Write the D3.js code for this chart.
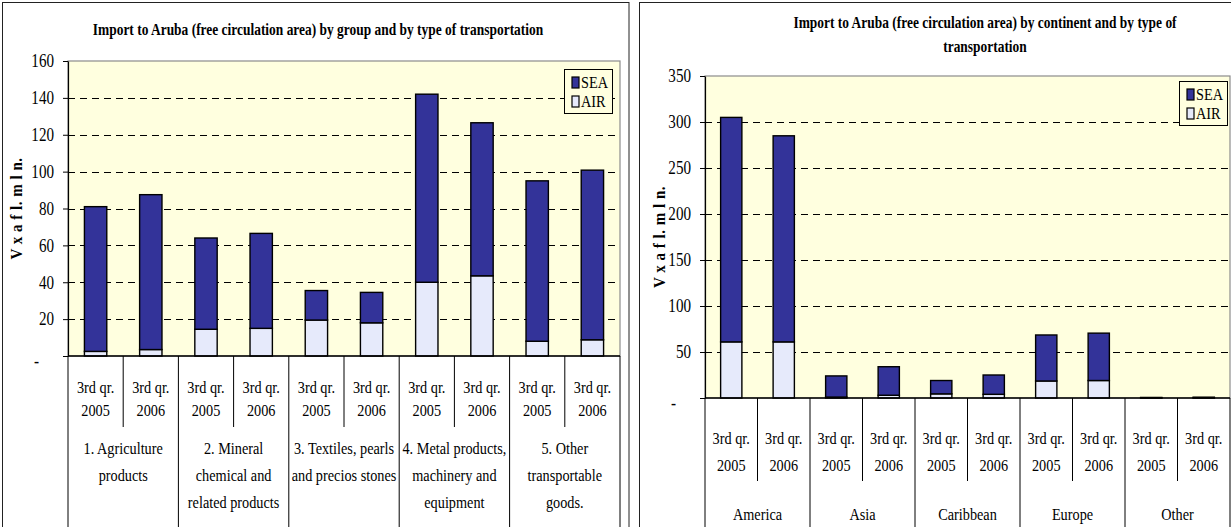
<!DOCTYPE html>
<html>
<head>
<meta charset="utf-8">
<script src="https://cdn.jsdelivr.net/npm/d3@7"></script>
<style>
  body { margin: 0; background: #fff; }
</style>
</head>
<body>
<div id="chart"></div>
<script>
// left chart: groups of goods
var groupNames = [
  ["1. Agriculture", "products"],
  ["2. Mineral", "chemical and", "related products"],
  ["3. Textiles, pearls", "and precios stones"],
  ["4. Metal products,", "machinery and", "equipment"],
  ["5. Other", "transportable", "goods."]
];
var groupSea = [78.5, 84, 49.5, 51.5, 16, 16.5, 102, 83, 87, 92];
var groupAir = [2.5, 3.5, 14.5, 15, 19.5, 18, 40, 43.5, 8, 8.8];
var groupTicks = [0, 20, 40, 60, 80, 100, 120, 140, 160];

// right chart: continents
var continents = [["America"], ["Asia"], ["Caribbean"], ["Europe"], ["Other"]];
var contSea = [244, 224, 23, 31, 14.5, 21, 50, 51.5, 0.5, 0.7];
var contAir = [61, 61, 1, 3, 4.5, 4, 18.5, 19, 0.1, 0.2];
var contTicks = [0, 50, 100, 150, 200, 250, 300, 350];

// periods shared by both charts
var periods = [["3rd qr.", "2005"], ["3rd qr.", "2006"]];
var seriesNames = ["SEA", "AIR"];

var FONT = "'Liberation Serif', 'Times New Roman', 'DejaVu Serif', serif";
var SX = 0.84; // text in the picture is squeezed sideways
var seaColor = "#333399", airColor = "#E6EAFB", plotBg = "#FFFFDF";

var svg = d3.select("#chart").append("svg")
    .attr("width", 1231)
    .attr("height", 527)
    .style("font-family", FONT);

// squeezed text helper
function label(g, x, y, s, size, anchor, bold) {
  return g.append("text")
    .attr("transform", "translate(" + x + "," + y + ") scale(" + SX + ",1)")
    .attr("text-anchor", anchor || "middle")
    .style("font-family", FONT)
    .style("font-size", size + "px")
    .style("font-weight", bold ? "bold" : "normal")
    .text(s);
}

// panel frames
svg.append("rect").attr("x", 2.5).attr("y", 2.5).attr("width", 626.5).attr("height", 600)
  .attr("fill", "none").attr("stroke", "#222");
svg.append("rect").attr("x", 639.5).attr("y", 2.5).attr("width", 700).attr("height", 600)
  .attr("fill", "none").attr("stroke", "#222");

function drawChart(c) {
  var g = svg.append("g");
  var rows = [];
  c.groups.forEach(function(grp, gi) {
    periods.forEach(function(p, pi) {
      var i = gi * periods.length + pi;
      rows.push({key: i, group: gi, period: p, SEA: c.sea[i], AIR: c.air[i]});
    });
  });

  var x = d3.scaleBand().domain(rows.map(function(d) { return d.key; }))
      .range([c.left, c.right]);
  var y = d3.scaleLinear().domain([0, c.max]).range([c.bottom, c.top]);

  // plot area
  g.append("rect")
    .attr("x", c.left).attr("y", c.top)
    .attr("width", c.right - c.left).attr("height", c.bottom - c.top)
    .attr("fill", plotBg).attr("stroke", "#8c8c8c").attr("stroke-width", 1.2);

  // dashed grid
  g.selectAll(".grid").data(c.ticks.filter(function(t) { return t > 0 && t < c.max; }))
    .enter().append("line")
    .attr("x1", c.left).attr("x2", c.right)
    .attr("y1", function(d) { return Math.round(y(d)) + 0.5; })
    .attr("y2", function(d) { return Math.round(y(d)) + 0.5; })
    .attr("stroke", "#000").attr("stroke-dasharray", "7,5");

  // stacked bars, AIR at the bottom
  var stacked = d3.stack().keys(["AIR", "SEA"])(rows);
  var barW = x.bandwidth() * 0.405;
  g.selectAll(".layer").data(stacked).enter().append("g")
    .attr("fill", function(d) { return d.key === "SEA" ? seaColor : airColor; })
    .selectAll("rect").data(function(d) { return d; }).enter().append("rect")
    .attr("x", function(d) { return x(d.data.key) + (x.bandwidth() - barW) / 2; })
    .attr("y", function(d) { return y(d[1]); })
    .attr("width", barW)
    .attr("height", function(d) { return y(d[0]) - y(d[1]); })
    .attr("stroke", "#000").attr("stroke-width", 1.4);

  // y axis
  var yAxis = g.append("g")
    .attr("transform", "translate(" + c.left + ",0)")
    .call(d3.axisLeft(y).tickValues(c.ticks).tickSize(5).tickSizeOuter(0)
      .tickFormat(function(d) { return d === 0 ? "-" : d; }));
  yAxis.attr("font-family", null);
  yAxis.select(".domain").attr("stroke", "#000").attr("stroke-width", 1.2);
  yAxis.selectAll(".tick line").attr("stroke", "#000");
  yAxis.selectAll(".tick text")
    .attr("transform", "scale(" + SX + ",1)")
    .attr("x", -14 / SX)
    .attr("fill", "#000")
    .style("font-size", "18px")
    .style("font-family", FONT);
  yAxis.selectAll(".tick text").filter(function(d) { return d === 0; })
    .attr("text-anchor", "start").attr("x", -34 / SX).attr("dy", "0.6em");

  // y title
  g.append("text")
    .attr("transform", "translate(" + c.ylabX + "," + (c.top + c.bottom) / 2 + ") rotate(-90) scale(0.88,1)")
    .attr("text-anchor", "middle")
    .style("font-family", FONT)
    .style("font-size", "17px").style("font-weight", "bold")
    .style("letter-spacing", "0.6px")
    .text("V x a f l. m l n.");

  // x baseline and separators
  g.append("line").attr("x1", c.left).attr("x2", c.right)
    .attr("y1", c.bottom).attr("y2", c.bottom).attr("stroke", "#000").attr("stroke-width", 1.5);
  var edges = d3.range(rows.length + 1);
  g.selectAll(".sep").data(edges).enter().append("line")
    .attr("x1", function(i) { return i < rows.length ? x(i) : c.right; })
    .attr("x2", function(i) { return i < rows.length ? x(i) : c.right; })
    .attr("y1", c.bottom)
    .attr("y2", function(i) { return i % periods.length === 0 ? 560 : c.shortSep; })
    .attr("stroke", "#000").attr("stroke-width", 1);

  // period labels
  rows.forEach(function(d) {
    var cx = x(d.key) + x.bandwidth() / 2;
    d.period.forEach(function(line, li) {
      label(g, cx, c.periodY + li * c.periodGap, line, 17, "middle");
    });
  });

  // group labels
  c.groups.forEach(function(grp, gi) {
    var cx = (x(gi * periods.length) + x(gi * periods.length + 1) + x.bandwidth()) / 2;
    grp.forEach(function(line, li) {
      label(g, cx, c.groupY + li * c.groupGap, line, 17, "middle");
    });
  });

  // title
  c.title.forEach(function(line, li) {
    g.append("text")
      .attr("transform", "translate(" + c.titleX + "," + (c.titleY + li * 24) + ") scale(0.84,1)")
      .attr("text-anchor", "middle")
      .style("font-family", FONT)
      .style("font-size", "16px").style("font-weight", "bold")
      .text(line);
  });

  // legend
  var lg = g.append("g").attr("transform", "translate(" + c.legend[0] + "," + c.legend[1] + ")");
  lg.append("rect").attr("x", 0.5).attr("y", 0.5).attr("width", 48).attr("height", 44)
    .attr("fill", plotBg).attr("stroke", "#000");
  seriesNames.forEach(function(s, si) {
    lg.append("rect").attr("x", 8).attr("y", 8 + si * 19).attr("width", 7).attr("height", 11)
      .attr("fill", s === "SEA" ? seaColor : airColor).attr("stroke", "#000").attr("stroke-width", 1.2);
    label(lg, 17, 19 + si * 19, s, 17, "start");
  });
}

drawChart({
  groups: groupNames, sea: groupSea, air: groupAir, ticks: groupTicks, max: 160,
  left: 68, right: 620, top: 61, bottom: 356,
  ylabX: 22, shortSep: 427,
  periodY: 393, periodGap: 23, groupY: 454, groupGap: 27,
  title: ["Import to Aruba (free circulation area) by group and by type of transportation"],
  titleX: 318, titleY: 35,
  legend: [564, 69]
});

drawChart({
  groups: continents, sea: contSea, air: contAir, ticks: contTicks, max: 350,
  left: 705, right: 1230, top: 76, bottom: 398,
  ylabX: 665, shortSep: 481,
  periodY: 444, periodGap: 27, groupY: 520, groupGap: 27,
  title: ["Import to Aruba (free circulation area) by continent and by type of", "transportation"],
  titleX: 985, titleY: 28,
  legend: [1179, 81]
});
</script>
</body>
</html>
